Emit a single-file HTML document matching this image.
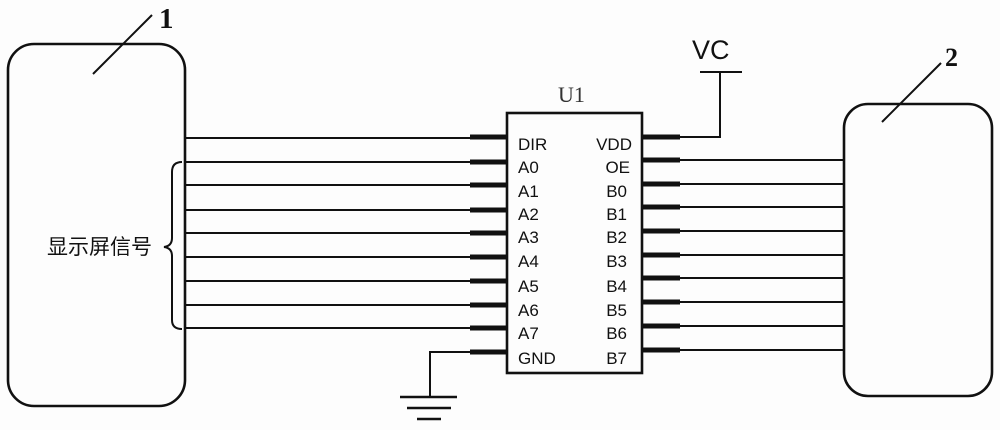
<!DOCTYPE html>
<html><head><meta charset="utf-8"><style>
html,body{margin:0;padding:0;background:#fdfdfd;}
svg{display:block;}
</style></head><body>
<svg width="1000" height="430" viewBox="0 0 1000 430" xmlns="http://www.w3.org/2000/svg">
<rect width="1000" height="430" fill="#fdfdfd"/>
<g fill="none" stroke="#111" stroke-width="2.6">
<rect x="8" y="44" width="177" height="362" rx="26"/>
<rect x="844" y="104" width="148" height="292" rx="24"/>
<rect x="507" y="113" width="135" height="260"/>
</g>
<g stroke="#111" stroke-width="2">
<line x1="93" y1="74" x2="152" y2="15"/>
<line x1="882" y1="122" x2="941" y2="63"/>
<line x1="185" y1="138" x2="470" y2="138"/>
<line x1="185" y1="162" x2="470" y2="162"/>
<line x1="185" y1="185" x2="470" y2="185"/>
<line x1="185" y1="210" x2="470" y2="210"/>
<line x1="185" y1="233" x2="470" y2="233"/>
<line x1="185" y1="257" x2="470" y2="257"/>
<line x1="185" y1="281" x2="470" y2="281"/>
<line x1="185" y1="305" x2="470" y2="305"/>
<line x1="185" y1="328" x2="470" y2="328"/>
<line x1="680" y1="160" x2="844" y2="160"/>
<line x1="680" y1="184" x2="844" y2="184"/>
<line x1="680" y1="207" x2="844" y2="207"/>
<line x1="680" y1="231" x2="844" y2="231"/>
<line x1="680" y1="255" x2="844" y2="255"/>
<line x1="680" y1="278" x2="844" y2="278"/>
<line x1="680" y1="302" x2="844" y2="302"/>
<line x1="680" y1="326" x2="844" y2="326"/>
<line x1="680" y1="350" x2="844" y2="350"/>
<polyline points="680,137 720,137 720,72" fill="none"/>
<line x1="700" y1="72" x2="742" y2="72"/>
<polyline points="470,352 430,352 430,397" fill="none"/>
<line x1="400" y1="397" x2="457" y2="397" stroke-width="2.5"/>
<line x1="407" y1="408" x2="451" y2="408" stroke-width="2.5"/>
<line x1="417" y1="419" x2="441" y2="419" stroke-width="2.5"/>
</g>
<g stroke="#111" stroke-width="5">
<line x1="470" y1="137" x2="507" y2="137"/>
<line x1="470" y1="162" x2="507" y2="162"/>
<line x1="470" y1="185" x2="507" y2="185"/>
<line x1="470" y1="210" x2="507" y2="210"/>
<line x1="470" y1="233" x2="507" y2="233"/>
<line x1="470" y1="257" x2="507" y2="257"/>
<line x1="470" y1="281" x2="507" y2="281"/>
<line x1="470" y1="305" x2="507" y2="305"/>
<line x1="470" y1="328" x2="507" y2="328"/>
<line x1="470" y1="352" x2="507" y2="352"/>
<line x1="642" y1="137" x2="680" y2="137"/>
<line x1="642" y1="160" x2="680" y2="160"/>
<line x1="642" y1="184" x2="680" y2="184"/>
<line x1="642" y1="207" x2="680" y2="207"/>
<line x1="642" y1="231" x2="680" y2="231"/>
<line x1="642" y1="255" x2="680" y2="255"/>
<line x1="642" y1="278" x2="680" y2="278"/>
<line x1="642" y1="302" x2="680" y2="302"/>
<line x1="642" y1="326" x2="680" y2="326"/>
<line x1="642" y1="350" x2="680" y2="350"/>
</g>
<path d="M182,162 Q172,162 172,172 L172,238 Q172,246 164,247 Q172,248 172,256 L172,320 Q172,329 182,329" fill="none" stroke="#111" stroke-width="2"/>
<g font-family="'Liberation Serif', serif" fill="#111">
<text x="159" y="28" font-size="29" font-weight="bold">1</text>
<text x="945" y="66" font-size="26" font-weight="bold">2</text>
<text x="558" y="102" font-size="22" fill="#333">U1</text>
</g>
<text x="692" y="59" font-family="'Liberation Sans', sans-serif" font-size="27" fill="#111">VC</text>
<text x="47" y="254" font-family="'Liberation Sans','Noto Sans CJK SC',sans-serif" font-size="21" fill="#111">显示屏信号</text>
<g font-family="'Liberation Sans', sans-serif" font-size="17" fill="#111">
<text x="518" y="150">DIR</text>
<text x="518" y="173">A0</text>
<text x="518" y="197">A1</text>
<text x="518" y="220">A2</text>
<text x="518" y="243">A3</text>
<text x="518" y="267">A4</text>
<text x="518" y="292">A5</text>
<text x="518" y="316">A6</text>
<text x="518" y="339">A7</text>
<text x="518" y="364">GND</text>
</g>
<g font-family="'Liberation Sans', sans-serif" font-size="17" fill="#111" text-anchor="end">
<text x="632" y="150">VDD</text>
<text x="630" y="173">OE</text>
<text x="627" y="197">B0</text>
<text x="627" y="220">B1</text>
<text x="627" y="243">B2</text>
<text x="627" y="267">B3</text>
<text x="627" y="292">B4</text>
<text x="627" y="316">B5</text>
<text x="627" y="339">B6</text>
<text x="627" y="364">B7</text>
</g>
</svg>
</body></html>
